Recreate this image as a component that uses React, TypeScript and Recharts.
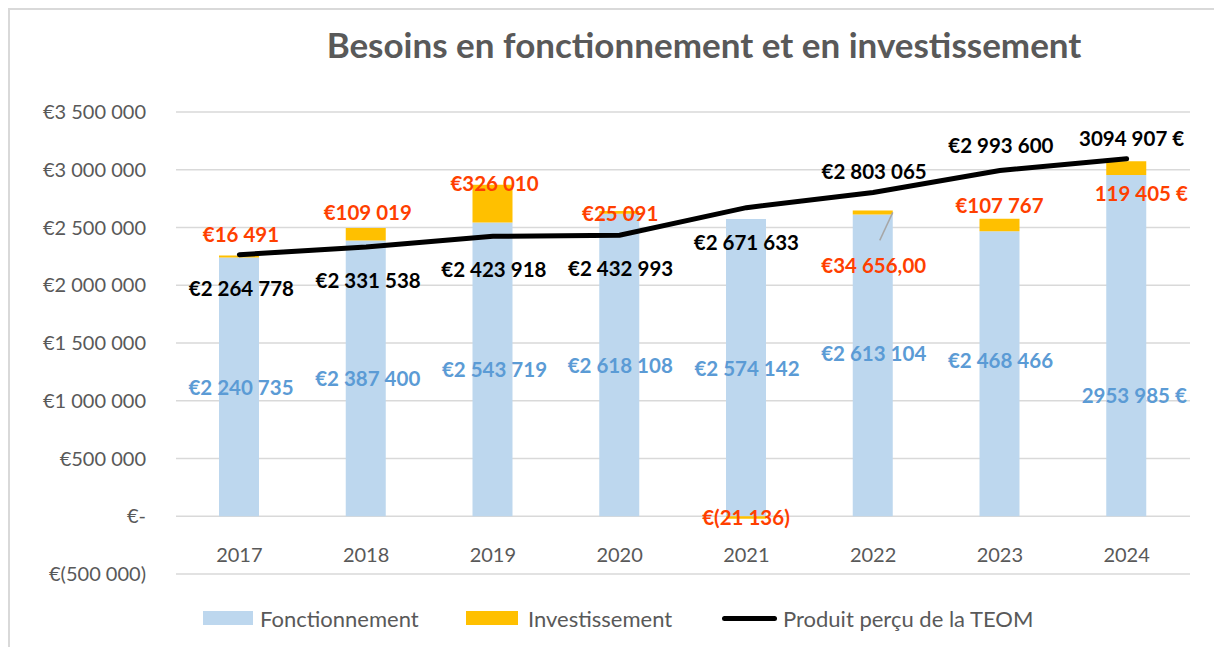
import React from 'react';
import {
  ComposedChart,
  Bar,
  Line,
  XAxis,
  YAxis,
  CartesianGrid,
  LabelList,
  Legend,
} from 'recharts';

const years = ['2017', '2018', '2019', '2020', '2021', '2022', '2023', '2024'];
const fonctionnement = [2240735, 2387400, 2543719, 2618108, 2574142, 2613104, 2468466, 2953985];
const investissement = [16491, 109019, 326010, 25091, -21136, 34656, 107767, 119405];
const teom = [2264778, 2331538, 2423918, 2432993, 2671633, 2803065, 2993600, 3094907];
const yTicks = [-500000, 0, 500000, 1000000, 1500000, 2000000, 2500000, 3000000, 3500000];

// label nudges [dx, dy], like the manual placement in the original sheet
const fOffset = [[2, 0], [2, 0], [2, 0], [1, 0], [1, 0], [1, -12], [1, -14], [8, 49]];
const iOffset = [[2, -22], [2, -16], [2, -2], [1, 2], [0, 1], [1, 55], [0, -14], [15, 32]];
const tOffset = [[2, 33], [2, 33], [1, 33], [1, 33], [0, 34], [1, -21], [1, -25], [5, -21]];

const BLUE = '#BDD7EE';
const GOLD = '#FFC000';
const BLUE_TXT = '#5B9BD5';
const RED_TXT = '#FF3F00';
const GRAY = '#595959';
const FONT = 'Lato, "Open Sans", sans-serif';

const data = years.map((y, i) => ({
  year: y,
  fonctionnement: fonctionnement[i],
  investissement: investissement[i],
  teom: teom[i],
}));

const group = (v: number) =>
  Math.round(Math.abs(v)).toString().replace(/\B(?=(\d{3})+(?!\d))/g, ' ');

const euro = (v: number) => {
  if (v === 0) return '€-';
  if (v < 0) return `€(${group(v)})`;
  return `€${group(v)}`;
};

// 2024 figures were typed with another format in the source
const euroSuffix = (v: number) =>
  `${Math.floor(v / 1000)} ${String(v % 1000).padStart(3, '0')} €`;

const labelText = (v: number, i: number, decimals = false) => {
  if (i === years.length - 1) return euroSuffix(v);
  if (decimals) return `${euro(v)},00`;
  return euro(v);
};

const txtStyle = { fontFamily: FONT, fontWeight: 700, fontSize: 20.5 };

const FLabel = (props: any) => {
  const { x, y, width, height, index } = props;
  const [dx, dy] = fOffset[index];
  return (
    <text
      x={x + width / 2 + dx}
      y={y + height / 2 + dy}
      textAnchor="middle"
      dominantBaseline="central"
      fill={BLUE_TXT}
      style={txtStyle}
    >
      {labelText(fonctionnement[index], index)}
    </text>
  );
};

const ILabel = (props: any) => {
  const { x, y, width, height, index } = props;
  const [dx, dy] = iOffset[index];
  const top = Math.min(y, y + height);
  const cx = x + width / 2;
  return (
    <g>
      {index === 5 && (
        <line x1={x + width} y1={top + 2} x2={cx + 7} y2={top + 30} stroke="#A6A6A6" strokeWidth={1.5} />
      )}
      <text
        x={cx + dx}
        y={top + dy}
        textAnchor="middle"
        dominantBaseline="central"
        fill={RED_TXT}
        style={txtStyle}
      >
        {labelText(investissement[index], index, index === 5)}
      </text>
    </g>
  );
};

const TLabel = (props: any) => {
  const { x, y, index } = props;
  const [dx, dy] = tOffset[index];
  return (
    <text
      x={x + dx}
      y={y + dy}
      textAnchor="middle"
      dominantBaseline="central"
      fill="#000"
      style={txtStyle}
    >
      {labelText(teom[index], index)}
    </text>
  );
};

const YearTick = (props: any) => {
  const { x, y, payload } = props;
  return (
    <text
      x={x}
      y={y - 28}
      textAnchor="middle"
      dominantBaseline="central"
      fill={GRAY}
      style={{ fontFamily: FONT, fontSize: 20 }}
    >
      {payload.value}
    </text>
  );
};

const LegendBox = () => {
  const item: React.CSSProperties = {
    position: 'absolute',
    top: 0,
    height: 14,
    display: 'flex',
    alignItems: 'center',
    fontFamily: FONT,
    fontSize: 22,
    color: GRAY,
    whiteSpace: 'nowrap',
  };
  return (
    <div style={{ position: 'relative', width: 1100, height: 20 }}>
      <div style={{ ...item, left: 193 }}>
        <span style={{ width: 50, height: 14, background: BLUE, marginRight: 7 }} />
        Fonctionnement
      </div>
      <div style={{ ...item, left: 456 }}>
        <span style={{ width: 52, height: 14, background: GOLD, marginRight: 10 }} />
        Investissement
      </div>
      <div style={{ ...item, left: 712 }}>
        <span style={{ width: 55, height: 5, borderRadius: 3, background: '#000', marginRight: 6 }} />
        Produit perçu de la TEOM
      </div>
    </div>
  );
};

export default function App() {
  return (
    <div
      style={{
        position: 'fixed',
        left: 0,
        top: 0,
        width: 1214,
        height: 647,
        overflow: 'hidden',
        background: '#fff',
      }}
    >
      <style>{'html, body { overflow: hidden; }'}</style>
      <div
        style={{
          position: 'absolute',
          left: 8,
          top: 8,
          width: 1220,
          height: 660,
          border: '2px solid #D9D9D9',
          background: '#fff',
        }}
      >
        <div
          style={{
            position: 'absolute',
            left: 0,
            top: 13,
            width: 1388,
            textAlign: 'center',
            fontFamily: FONT,
            fontWeight: 700,
            fontSize: 35,
            color: GRAY,
            whiteSpace: 'nowrap',
          }}
        >
          Besoins en fonctionnement et en investissement
        </div>
        <ComposedChart
          width={1190}
          height={637}
          data={data}
          stackOffset="sign"
          barSize={40}
          margin={{ top: 102, right: 10, bottom: 23, left: 0 }}
        >
          <CartesianGrid vertical={false} stroke="#D9D9D9" strokeWidth={1.5} />
          <XAxis dataKey="year" axisLine={false} tickLine={false} height={30} tick={<YearTick />} />
          <YAxis
            width={166}
            domain={[-500000, 3500000]}
            ticks={yTicks}
            tickFormatter={euro}
            axisLine={false}
            tickLine={false}
            tickSize={0}
            tickMargin={30}
            tick={{ fill: GRAY, fontSize: 20, fontFamily: FONT }}
          />
          <Legend
            verticalAlign="bottom"
            height={20}
            content={<LegendBox />}
            wrapperStyle={{ left: 0, top: 601, bottom: 'auto', width: 1100 }}
          />
          <Bar dataKey="fonctionnement" name="Fonctionnement" stackId="a" fill={BLUE} isAnimationActive={false}>
            <LabelList dataKey="fonctionnement" content={<FLabel />} />
          </Bar>
          <Bar dataKey="investissement" name="Investissement" stackId="a" fill={GOLD} isAnimationActive={false}>
            <LabelList dataKey="investissement" content={<ILabel />} />
          </Bar>
          <Line
            dataKey="teom"
            name="Produit perçu de la TEOM"
            type="linear"
            stroke="#000"
            strokeWidth={5}
            strokeLinecap="round"
            dot={false}
            activeDot={false}
            isAnimationActive={false}
          >
            <LabelList dataKey="teom" content={<TLabel />} />
          </Line>
        </ComposedChart>
      </div>
    </div>
  );
}
